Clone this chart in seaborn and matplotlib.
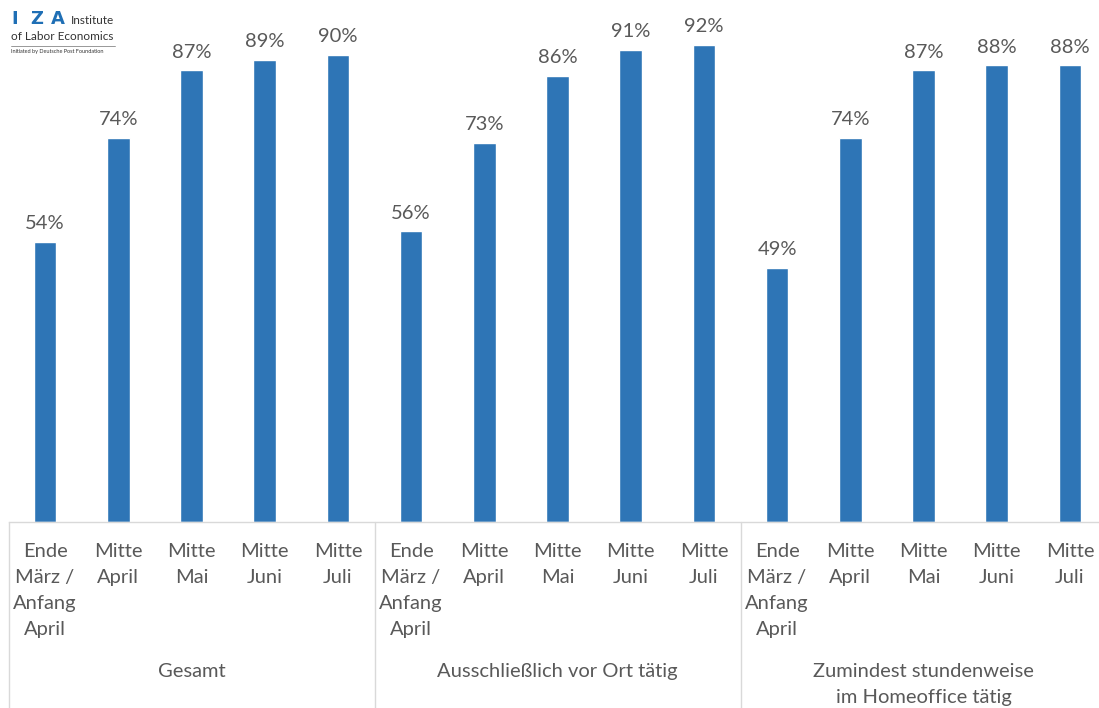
import numpy as np
import pandas as pd
import matplotlib.pyplot as plt
import seaborn as sns

sns.set_style('white')
plt.rcParams['font.family'] = ['Lato', 'DejaVu Sans']

# data
groups = ['Gesamt', 'Ausschließlich vor Ort tätig',
          'Zumindest stundenweise\nim Homeoffice tätig']
periods = ['Ende\nMärz /\nAnfang\nApril', 'Mitte\nApril', 'Mitte\nMai',
           'Mitte\nJuni', 'Mitte\nJuli']
gesamt = [54, 74, 87, 89, 90]
vor_ort = [56, 73, 86, 91, 92]
homeoffice = [49, 74, 87, 88, 88]

rows = []
for g, vals in zip(groups, [gesamt, vor_ort, homeoffice]):
    for p, v in zip(periods, vals):
        rows.append({'group': g, 'period': p, 'value': v})
df = pd.DataFrame(rows)
df['slot'] = np.arange(len(df))

grey = '#595959'
line_grey = '#d9d9d9'
fs = 14.5

fig = plt.figure(figsize=(10.99, 7.08), dpi=100)
ax = fig.add_axes([8.5 / 1099, 1 - 522 / 708, 1098 / 1099, 519 / 708])

sns.barplot(x='slot', y='value', data=df, color='#2E75B6', width=0.31,
            saturation=1, ax=ax)
ax.bar_label(ax.containers[0], fmt='{:.0f}%', padding=7, fontsize=fs,
             color=grey)

ax.set_xlim(-0.5, len(df) - 0.5)
ax.set_ylim(0, 100)
ax.set_xlabel('')
ax.set_ylabel('')
ax.set_yticks([])
ax.set_xticks(df['slot'])
ax.set_xticklabels(df['period'], fontsize=fs, color=grey, linespacing=1.65)
ax.tick_params(axis='x', length=0, pad=15)
for s in ['top', 'left', 'right']:
    ax.spines[s].set_visible(False)
ax.spines['bottom'].set_color(line_grey)
ax.spines['bottom'].set_linewidth(1)

# group separators and labels
trans = ax.get_xaxis_transform()
for xpos in [-0.5, 4.5, 9.5, 14.5]:
    ax.plot([xpos, xpos], [0, -0.37], transform=trans, color=line_grey,
            lw=1, clip_on=False)
for i, g in enumerate(groups):
    ax.text(i * 5 + 2, -0.272, g, transform=trans, ha='center', va='top',
            fontsize=fs, color=grey, linespacing=1.65)

# IZA logo
for letter, xp in zip('IZA', [15, 37, 58]):
    fig.text(xp / 1099, 1 - 19 / 708, letter, fontsize=13, color='#1f6fb5',
             fontweight='bold', ha='center', va='center',
             family=['DejaVu Sans'])
fig.text(71 / 1099, 1 - 20 / 708, 'Institute', fontsize=8.5, color='#333333',
         va='center')
fig.text(11 / 1099, 1 - 37 / 708, 'of Labor Economics', fontsize=8.5,
         color='#333333', va='center')
fig.add_artist(plt.Line2D([11 / 1099, 115 / 1099], [1 - 46 / 708, 1 - 46 / 708],
                          color='#888888', lw=0.6))
fig.text(11 / 1099, 1 - 52 / 708, 'Initiated by Deutsche Post Foundation',
         fontsize=4, color='#333333', va='center')

fig.savefig('out.png', dpi=100)
